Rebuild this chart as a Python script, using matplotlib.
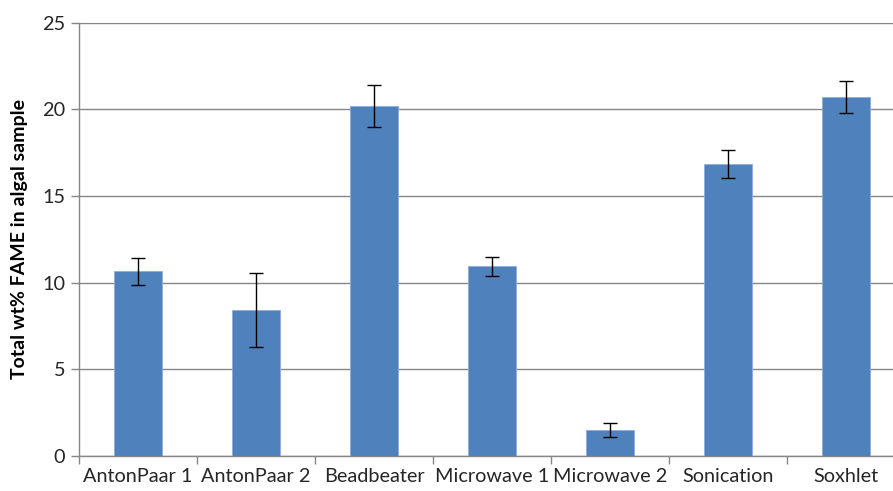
import matplotlib.pyplot as plt
import numpy as np

methods = ['AntonPaar 1', 'AntonPaar 2', 'Beadbeater', 'Microwave 1',
           'Microwave 2', 'Sonication', 'Soxhlet']
fame = [10.66, 8.41, 20.16, 10.95, 1.50, 16.82, 20.68]
err = [0.78, 2.13, 1.21, 0.55, 0.41, 0.81, 0.92]

plt.rcParams['font.family'] = ['Lato', 'DejaVu Sans']

fig = plt.figure(figsize=(8.93, 4.91), dpi=100)
# the right end of the plot is cut off in the original
ax = fig.add_axes([79 / 893, 35 / 491, 826 / 893, 433.5 / 491])

x = np.arange(len(methods))
ax.bar(x, fame, width=0.4, color='#4F81BD', edgecolor='#8DADD8', linewidth=0.6, zorder=3)
ax.errorbar(x, fame, yerr=err, fmt='none', ecolor='black', elinewidth=1,
            capsize=5, capthick=1, zorder=4)

ax.set_xlim(-0.5, len(methods) - 0.5)
ax.set_ylim(0, 25)
ax.set_yticks([0, 5, 10, 15, 20, 25])
ax.yaxis.grid(True, color='#868686', linewidth=1, zorder=0)

ax.set_xticks(x)
ax.set_xticklabels(methods, fontsize=14.3, color='#262626')
ax.set_xticks(np.arange(len(methods) + 1) - 0.5, minor=True)
ax.tick_params(axis='x', which='major', length=0, pad=9)
ax.tick_params(axis='x', which='minor', length=6, color='#868686', width=1)
ax.tick_params(axis='y', length=6, color='#868686', width=1, labelsize=14.3,
               labelcolor='#262626', pad=4)

for side in ['top', 'right']:
    ax.spines[side].set_visible(False)
for side in ['left', 'bottom']:
    ax.spines[side].set_color('#868686')
    ax.spines[side].set_linewidth(1)

ax.set_ylabel('Total wt% FAME in algal sample', fontsize=14, fontweight='bold',
              labelpad=10)

fig.savefig('out.png', dpi=100)
